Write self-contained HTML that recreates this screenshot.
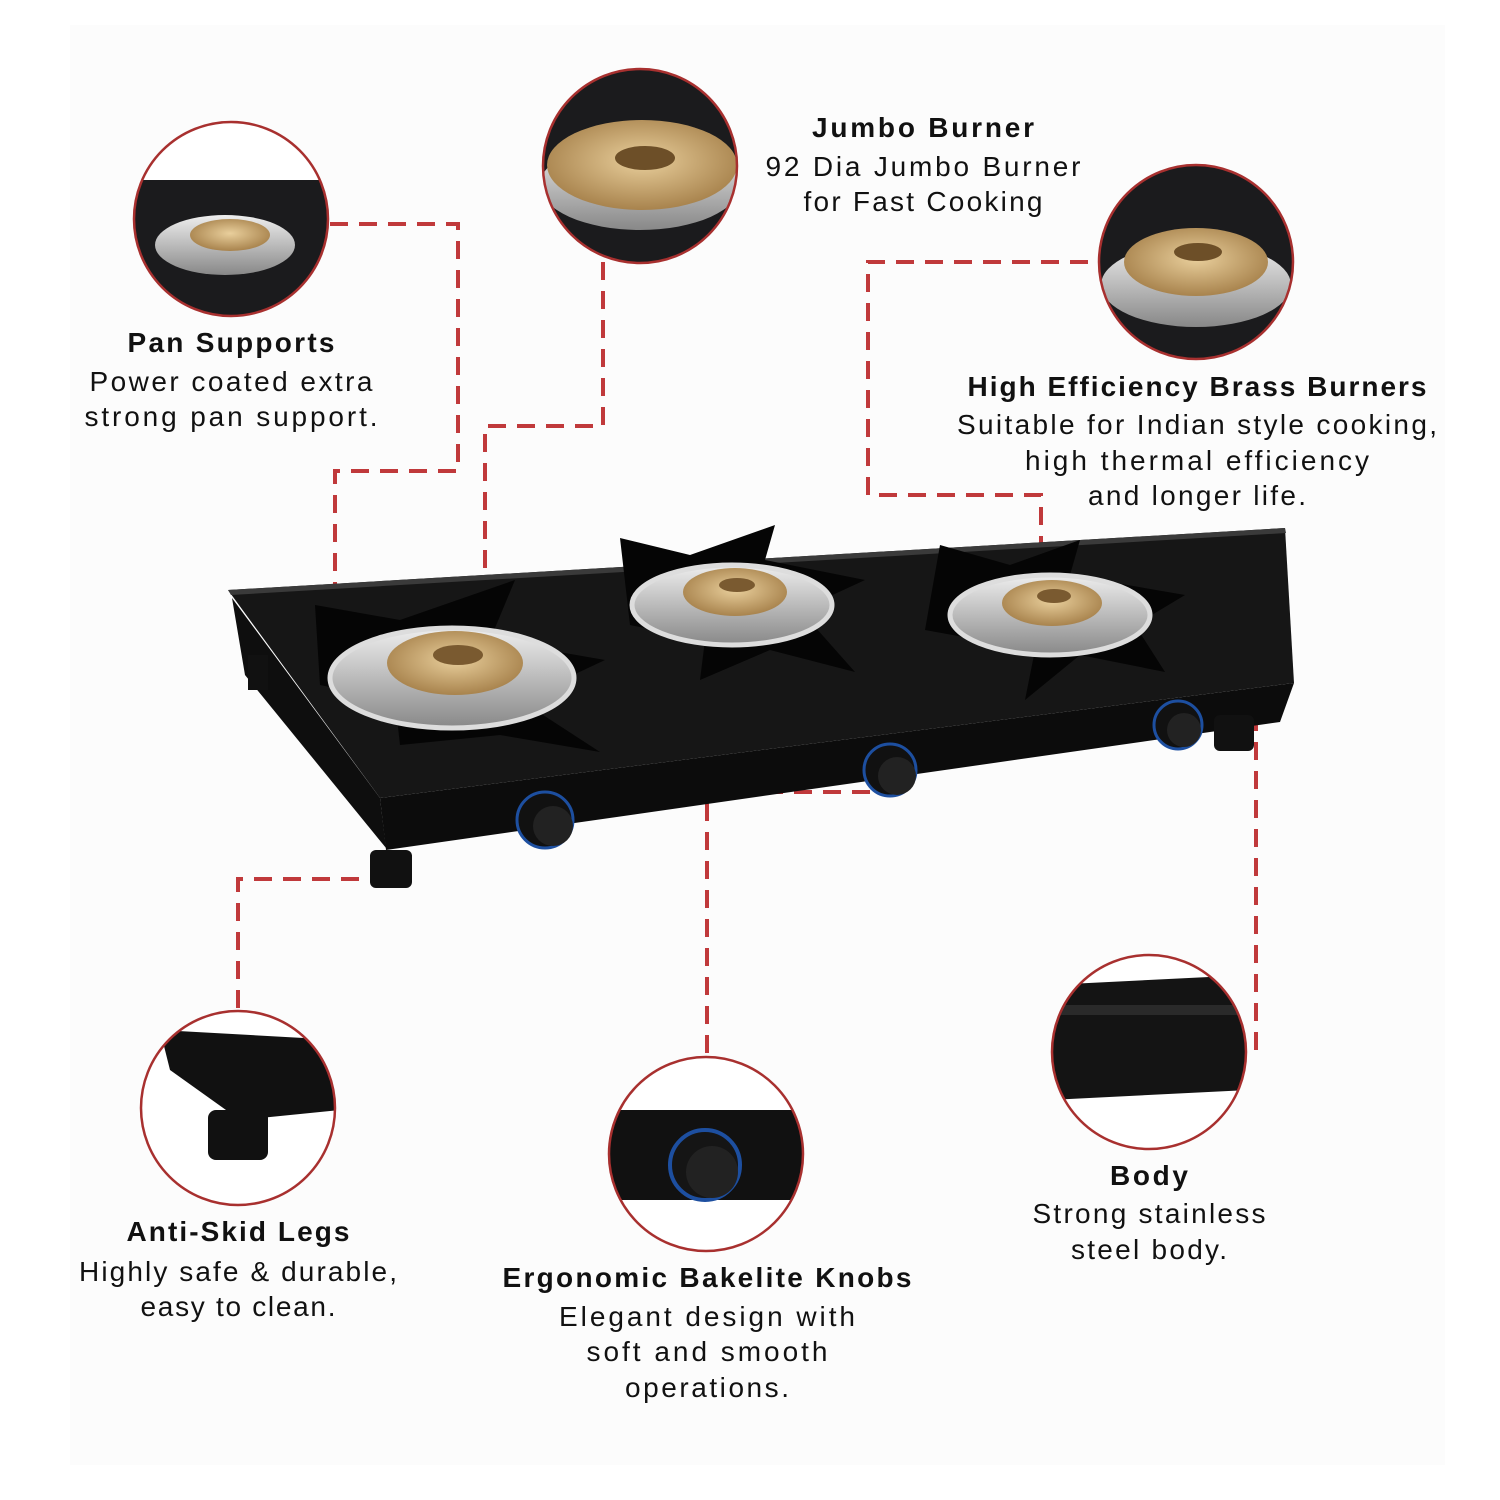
<!DOCTYPE html>
<html><head><meta charset="utf-8"><style>
html,body{margin:0;padding:0;background:#fff}
svg{display:block}
text{font-family:"Liberation Sans",sans-serif;fill:#111}
.t{font-weight:bold;font-size:28px}
.b{font-size:28px}
.d{stroke:#c0393b;stroke-width:4;fill:none;stroke-dasharray:18 11}
.c{stroke:#a8302f;stroke-width:2.5}
</style></head><body>
<svg width="1500" height="1500" viewBox="0 0 1500 1500">
<rect width="1500" height="1500" fill="#fff"/>
<rect x="70" y="25" width="1375" height="1440" fill="#fcfcfc"/>
<defs>
<radialGradient id="gold" cx="50%" cy="45%" r="55%"><stop offset="0" stop-color="#e9cf9c"/><stop offset="1" stop-color="#a8834d"/></radialGradient>
<linearGradient id="steel" x1="0" y1="0" x2="0" y2="1"><stop offset="0" stop-color="#eee"/><stop offset="1" stop-color="#888"/></linearGradient>
<clipPath id="c1"><circle cx="231" cy="219" r="97"/></clipPath>
<clipPath id="c2"><circle cx="640" cy="166" r="97"/></clipPath>
<clipPath id="c3"><circle cx="1196" cy="262" r="97"/></clipPath>
<clipPath id="c4"><circle cx="238" cy="1108" r="97"/></clipPath>
<clipPath id="c5"><circle cx="706" cy="1154" r="97"/></clipPath>
<clipPath id="c6"><circle cx="1149" cy="1052" r="97"/></clipPath>
</defs>

<path class="d" d="M330 224 H458 V471 H335 V605"/>
<path class="d" d="M603 262 V426 H485 V625"/>
<path class="d" d="M1088 262 H868 V495 H1041 V545"/>
<path class="d" d="M238 1008 V879 H378"/>
<path class="d" d="M707 1053 V792 H888"/>
<path class="d" d="M1256 1050 V712"/>

<!-- stove -->
<polygon points="232,598 380,798 386,848 245,675" fill="#0e0e0e"/>
<polygon points="380,798 1294,683 1280,722 386,850" fill="#0c0c0c"/>
<polygon points="228,590 1285,528 1294,683 380,798" fill="#161616"/>
<polygon points="228,590 1285,528 1286,533 231,595" fill="#3a3a3a"/>
<rect x="370" y="850" width="42" height="38" rx="6" fill="#111"/>
<rect x="1214" y="715" width="40" height="36" rx="6" fill="#111"/>
<rect x="248" y="655" width="20" height="35" fill="#111"/>
<g>
<polygon points="315,605 400,620 515,580 490,640 605,660 520,700 600,752 500,735 400,745 395,700 320,685" fill="#050505"/>
<ellipse cx="452" cy="678" rx="122" ry="50" fill="url(#steel)" stroke="#ddd" stroke-width="5"/>
<ellipse cx="455" cy="663" rx="68" ry="32" fill="url(#gold)"/>
<ellipse cx="458" cy="655" rx="25" ry="10" fill="#7a5a30"/>
</g>
<g>
<polygon points="620,538 690,555 775,525 765,560 865,580 800,610 855,672 770,650 700,680 705,640 630,625" fill="#050505"/>
<ellipse cx="732" cy="605" rx="100" ry="40" fill="url(#steel)" stroke="#ddd" stroke-width="5"/>
<ellipse cx="735" cy="592" rx="52" ry="24" fill="url(#gold)"/>
<ellipse cx="737" cy="585" rx="18" ry="7" fill="#7a5a30"/>
</g>
<g>
<polygon points="940,545 1010,565 1080,540 1070,575 1185,595 1135,625 1165,672 1080,655 1025,700 1035,650 925,630" fill="#050505"/>
<ellipse cx="1050" cy="615" rx="100" ry="40" fill="url(#steel)" stroke="#ddd" stroke-width="5"/>
<ellipse cx="1052" cy="603" rx="50" ry="23" fill="url(#gold)"/>
<ellipse cx="1054" cy="596" rx="17" ry="7" fill="#7a5a30"/>
</g>
<g fill="#111" stroke="#1d4fa0" stroke-width="3">
<circle cx="545" cy="820" r="28"/><circle cx="890" cy="770" r="26"/><circle cx="1178" cy="725" r="24"/>
</g>
<g fill="#222"><circle cx="553" cy="826" r="20"/><circle cx="897" cy="776" r="19"/><circle cx="1184" cy="730" r="17"/></g>

<g clip-path="url(#c1)"><rect x="130" y="120" width="200" height="200" fill="#fff"/><rect x="130" y="180" width="200" height="140" fill="#1b1b1d"/><ellipse cx="225" cy="245" rx="70" ry="30" fill="url(#steel)"/><ellipse cx="230" cy="235" rx="40" ry="16" fill="url(#gold)"/></g>
<circle class="c" cx="231" cy="219" r="97" fill="none"/>
<g clip-path="url(#c2)"><rect x="540" y="65" width="200" height="200" fill="#1b1b1d"/><ellipse cx="640" cy="185" rx="100" ry="45" fill="url(#steel)"/><ellipse cx="642" cy="165" rx="95" ry="45" fill="url(#gold)"/><ellipse cx="645" cy="158" rx="30" ry="12" fill="#6d4f28"/></g>
<circle class="c" cx="640" cy="166" r="97" fill="none"/>
<g clip-path="url(#c3)"><rect x="1095" y="160" width="200" height="200" fill="#1b1b1d"/><ellipse cx="1196" cy="285" rx="95" ry="42" fill="url(#steel)"/><ellipse cx="1196" cy="262" rx="72" ry="34" fill="url(#gold)"/><ellipse cx="1198" cy="252" rx="24" ry="9" fill="#6d4f28"/></g>
<circle class="c" cx="1196" cy="262" r="97" fill="none"/>
<g clip-path="url(#c4)"><rect x="138" y="1008" width="200" height="200" fill="#fff"/><polygon points="160,1030 340,1040 340,1110 240,1120 170,1070" fill="#111"/><rect x="208" y="1110" width="60" height="50" rx="8" fill="#111"/></g>
<circle class="c" cx="238" cy="1108" r="97" fill="none"/>
<g clip-path="url(#c5)"><rect x="606" y="1054" width="200" height="200" fill="#fff"/><rect x="606" y="1110" width="200" height="90" fill="#111"/><circle cx="705" cy="1165" r="35" fill="#151515" stroke="#1d4fa0" stroke-width="4"/><circle cx="712" cy="1172" r="26" fill="#222"/></g>
<circle class="c" cx="706" cy="1154" r="97" fill="none"/>
<g clip-path="url(#c6)"><rect x="1049" y="952" width="200" height="200" fill="#fff"/><polygon points="1049,985 1249,975 1249,1090 1049,1100" fill="#141414"/><rect x="1049" y="1005" width="200" height="10" fill="#2a2a2a"/></g>
<circle class="c" cx="1149" cy="1052" r="97" fill="none"/>

<g text-anchor="middle">
<text class="t" x="231" y="352" textLength="207">Pan Supports</text>
<text class="b" x="231" y="391" textLength="283">Power coated extra</text>
<text class="b" x="231" y="426" textLength="293">strong pan support.</text>
<text class="t" x="923" y="137" textLength="222">Jumbo Burner</text>
<text class="b" x="923" y="176" textLength="315">92 Dia Jumbo Burner</text>
<text class="b" x="923" y="211" textLength="239">for Fast Cooking</text>
<text class="t" x="1197" y="396" textLength="459">High Efficiency Brass Burners</text>
<text class="b" x="1197" y="434" textLength="480">Suitable for Indian style cooking,</text>
<text class="b" x="1197" y="470" textLength="344">high thermal efficiency</text>
<text class="b" x="1197" y="505" textLength="218">and longer life.</text>
<text class="t" x="238" y="1241" textLength="223">Anti-Skid Legs</text>
<text class="b" x="238" y="1281" textLength="318">Highly safe &amp; durable,</text>
<text class="b" x="238" y="1316" textLength="195">easy to clean.</text>
<text class="t" x="707" y="1287" textLength="409">Ergonomic Bakelite Knobs</text>
<text class="b" x="707" y="1326" textLength="296">Elegant design with</text>
<text class="b" x="707" y="1361" textLength="241">soft and smooth</text>
<text class="b" x="707" y="1397" textLength="164">operations.</text>
<text class="t" x="1149" y="1185" textLength="78">Body</text>
<text class="b" x="1149" y="1223" textLength="233">Strong stainless</text>
<text class="b" x="1149" y="1259" textLength="156">steel body.</text>
</g>
</svg>
</body></html>
